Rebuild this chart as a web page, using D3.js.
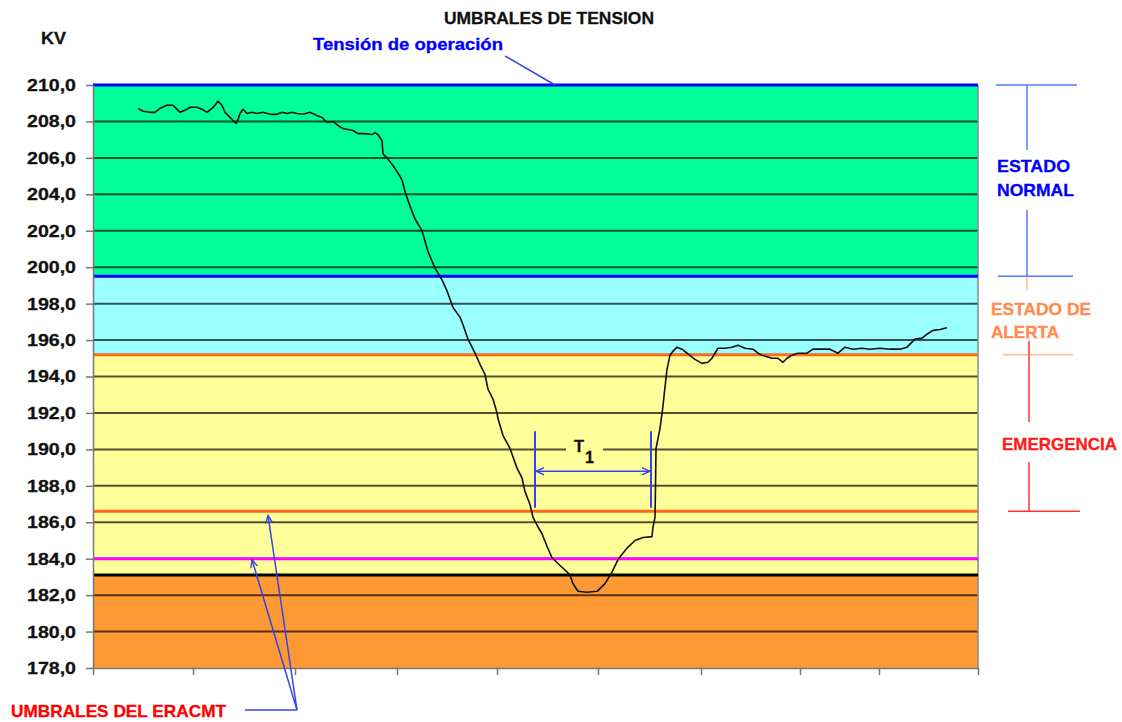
<!DOCTYPE html>
<html lang="es">
<head>
<meta charset="utf-8">
<title>Umbrales de tension</title>
<script src="https://d3js.org/d3.v7.min.js"></script>
<style>
  body { margin: 0; background: #fff; }
  text { font-family: "Liberation Sans", Arial, sans-serif; font-weight: bold; }
</style>
</head>
<body>
<chart></chart>
<script>
// tick values
const yTicks = [178, 180, 182, 184, 186, 188, 190, 192, 194, 196, 198, 200, 202, 204, 206, 208, 210];
const xTicks = [0, 100, 202, 304, 404, 505, 608, 707, 786, 885];

// zones (kV)
const bandTop = [210, 199.5, 195.2, 183.1];
const bandBottom = [199.5, 195.2, 183.1, 178];
const bandColors = ["#00ff99", "#99ffff", "#ffff99", "#ff9933"];

// threshold lines (kV)
const thresholdValues = [210, 199.5, 195.2, 186.6, 184, 183.1];
const thresholdColors = ["#0000ff", "#0000ff", "#ff6a1a", "#ff6a1a", "#ff00ff", "#000000"];

// measured voltage [t, kV]
const voltage = [
  [45,208.72],[50,208.56],[57,208.50],[62,208.50],[67,208.72],[74,208.89],[80,208.89],[87,208.50],
  [92,208.61],[97,208.78],[104,208.78],[109,208.67],[114,208.50],[119,208.72],[122,208.89],[125,209.11],
  [129,208.89],[132,208.50],[137,208.22],[143,207.89],[145,208.11],[147,208.44],[150,208.67],[154,208.44],
  [159,208.50],[164,208.44],[170,208.50],[177,208.39],[184,208.39],[189,208.50],[194,208.44],[199,208.50],
  [204,208.44],[210,208.39],[217,208.50],[224,208.33],[229,208.22],[234,207.94],[240,208.00],[245,207.78],
  [250,207.61],[255,207.56],[260,207.50],[265,207.33],[272,207.33],[279,207.28],[282,207.39],[285,207.28],
  [289,206.94],[290,206.22],[294,206.00],[300,205.58],[305,205.16],[309,204.79],[312,204.16],[317,203.35],
  [322,202.65],[329,202.00],[335,200.86],[342,199.95],[349,199.30],[354,198.70],[360,197.79],[367,197.26],
  [370,196.84],[375,196.05],[382,195.28],[387,194.67],[392,194.11],[395,193.30],[400,192.76],[404,192.00],
  [405,191.68],[410,190.76],[417,190.05],[424,188.97],[429,188.43],[432,187.68],[437,186.97],[440,186.27],
  [445,185.74],[449,185.37],[454,184.68],[459,184.05],[469,183.53],[477,183.11],[480,182.63],[485,182.21],
  [494,182.16],[504,182.21],[512,182.63],[519,183.26],[525,183.95],[534,184.58],[542,185.00],[550,185.16],
  [559,185.21],[560,185.74],[562,186.27],[562.5,187.89],[563,190.05],[567,191.14],[570,192.38],[571,192.92],
  [574,194.39],[577,195.17],[580,195.39],[584,195.61],[589,195.50],[594,195.28],[602,194.94],[609,194.72],
  [615,194.78],[619,195.00],[625,195.55],[632,195.55],[639,195.61],[645,195.72],[652,195.55],[660,195.50],
  [665,195.28],[669,195.17],[679,195.00],[685,195.00],[690,194.78],[694,195.00],[699,195.17],[705,195.28],
  [714,195.28],[720,195.50],[729,195.50],[737,195.50],[745,195.28],[752,195.61],[760,195.50],[769,195.55],
  [777,195.50],[787,195.55],[797,195.50],[807,195.50],[814,195.61],[819,195.89],[822,196.05],[829,196.11],
  [834,196.32],[840,196.53],[847,196.58],[854,196.68]
];

// T1 interval (t) and its vertical extent (kV)
const t1Span = [442, 558];
const t1Range = [186.8, 191.0];

var width = 1122, height = 722;
var margin = { top: 85, right: 144, bottom: 54, left: 93 };

var svg = d3.select("chart").append("svg")
  .attr("width", width)
  .attr("height", height);

var x = d3.scaleLinear().domain([0, 885]).range([margin.left, width - margin.right]);
var y = d3.scaleLinear().domain([178, 210]).range([height - margin.bottom, margin.top]);

var defs = svg.append("defs");
defs.append("marker")
  .attr("id", "arr")
  .attr("viewBox", "0 0 10 10")
  .attr("refX", 9).attr("refY", 5)
  .attr("markerWidth", 9).attr("markerHeight", 9)
  .attr("markerUnits", "userSpaceOnUse")
  .attr("orient", "auto-start-reverse")
  .append("path")
  .attr("d", "M0,1 L9,5 L0,9")
  .attr("fill", "none")
  .attr("stroke", "#3344ee")
  .attr("stroke-width", 1.5);

// zones
svg.append("g").selectAll("rect")
  .data(bandTop)
  .join("rect")
  .attr("x", x(0))
  .attr("width", x(885) - x(0))
  .attr("y", d => y(d))
  .attr("height", (d, i) => y(bandBottom[i]) - y(d))
  .attr("fill", (d, i) => bandColors[i]);

// gridlines
svg.append("g").selectAll("line")
  .data(yTicks.slice(1, -1))
  .join("line")
  .attr("x1", x(0)).attr("x2", x(885))
  .attr("y1", d => y(d)).attr("y2", d => y(d))
  .attr("stroke", "#000")
  .attr("stroke-opacity", 0.68)
  .attr("stroke-width", 2);

// gap in the 190 gridline behind the T1 label
svg.append("rect")
  .attr("x", 566).attr("width", 37)
  .attr("y", y(190) - 4).attr("height", 8)
  .attr("fill", "#ffff99");

// right border
svg.append("line")
  .attr("x1", x(885)).attr("x2", x(885))
  .attr("y1", y(210)).attr("y2", y(178))
  .attr("stroke", "#888").attr("stroke-width", 1.5);

// threshold lines
svg.append("g").selectAll("line")
  .data(thresholdValues)
  .join("line")
  .attr("x1", x(0)).attr("x2", x(885))
  .attr("y1", d => y(d)).attr("y2", d => y(d))
  .attr("stroke", (d, i) => thresholdColors[i])
  .attr("stroke-width", 3);

// axes
var yAxis = d3.axisLeft(y)
  .tickValues(yTicks)
  .tickSize(7)
  .tickSizeOuter(0)
  .tickPadding(10)
  .tickFormat(d => d.toFixed(1).replace(".", ","));

var xAxis = d3.axisBottom(x)
  .tickValues(xTicks)
  .tickSize(7)
  .tickSizeOuter(0)
  .tickFormat("");

var gy = svg.append("g")
  .attr("transform", "translate(" + margin.left + ",0)")
  .call(yAxis);
gy.select(".domain").attr("stroke", "#777").attr("stroke-width", 1.5);
gy.selectAll(".tick line").attr("stroke", "#777").attr("stroke-width", 1.5);
gy.selectAll(".tick text")
  .attr("font-size", 17)
  .attr("fill", "#111")
  .attr("stroke", "#111")
  .attr("stroke-width", 0.3)
  .attr("textLength", 49)
  .attr("lengthAdjust", "spacingAndGlyphs");

var gx = svg.append("g")
  .attr("transform", "translate(0," + y(178) + ")")
  .call(xAxis);
gx.select(".domain").attr("stroke", "#777").attr("stroke-width", 1.5);
gx.selectAll(".tick line").attr("stroke", "#777").attr("stroke-width", 1.5);

// voltage line
var line = d3.line().x(d => x(d[0])).y(d => y(d[1]));
svg.append("path")
  .datum(voltage)
  .attr("d", line)
  .attr("fill", "none")
  .attr("stroke", "#111")
  .attr("stroke-width", 1.6)
  .attr("stroke-linejoin", "round");

// helper for stretched bold text
function label(txt, px, py, size, color, len) {
  return svg.append("text")
    .attr("x", px).attr("y", py)
    .attr("font-size", size)
    .attr("fill", color)
    .attr("stroke", color)
    .attr("stroke-width", 0.3)
    .attr("textLength", len)
    .attr("lengthAdjust", "spacingAndGlyphs")
    .text(txt);
}

label("UMBRALES DE TENSION", 444, 24, 17, "#111", 210);
label("KV", 41, 44, 17, "#111", 25);
label("Tensión de operación", 313, 50, 17, "#0000ff", 190);
svg.append("line")
  .attr("x1", 505).attr("y1", 56)
  .attr("x2", x(462)).attr("y2", y(210))
  .attr("stroke", "#3344ee").attr("stroke-width", 1.5);

// T1 interval
var t1 = svg.append("g").attr("stroke", "#3344ee").attr("stroke-width", 2);
t1Span.forEach(function (t) {
  t1.append("line")
    .attr("x1", x(t)).attr("x2", x(t))
    .attr("y1", y(t1Range[1])).attr("y2", y(t1Range[0]));
});
t1.append("line")
  .attr("x1", x(t1Span[0]) + 1).attr("x2", x(t1Span[1]) - 1)
  .attr("y1", y(188.8)).attr("y2", y(188.8))
  .attr("stroke-width", 1.5)
  .attr("marker-start", "url(#arr)")
  .attr("marker-end", "url(#arr)");
label("T", 574, y(190) + 3, 16, "#111", 10);
label("1", 585, y(190) + 14, 16, "#111", 9);

// ERACMT thresholds callout
label("UMBRALES DEL ERACMT", 11, 717, 17, "#ff0000", 215);
var er = svg.append("g").attr("stroke", "#3344ee").attr("stroke-width", 1.5).attr("fill", "none");
er.append("line").attr("x1", 245).attr("y1", 710).attr("x2", 297).attr("y2", 710);
er.append("line").attr("x1", 297).attr("y1", 710)
  .attr("x2", x(159)).attr("y2", y(184) + 1)
  .attr("marker-end", "url(#arr)");
er.append("line").attr("x1", 297).attr("y1", 710)
  .attr("x2", x(175)).attr("y2", y(186.6) + 4)
  .attr("marker-end", "url(#arr)");

// state brackets on the right
var bx = 1027;
var st = svg.append("g").attr("stroke-width", 1.5);
st.append("line").attr("x1", 996).attr("x2", 1077).attr("y1", y(210)).attr("y2", y(210)).attr("stroke", "#5577ff");
st.append("line").attr("x1", bx).attr("x2", bx).attr("y1", y(210)).attr("y2", 150).attr("stroke", "#5577ff");
st.append("line").attr("x1", bx).attr("x2", bx).attr("y1", 210).attr("y2", y(199.5)).attr("stroke", "#5577ff");
st.append("line").attr("x1", 998).attr("x2", 1073).attr("y1", y(199.5)).attr("y2", y(199.5)).attr("stroke", "#5577ff");
st.append("line").attr("x1", bx).attr("x2", bx).attr("y1", y(199.5) + 1).attr("y2", y(199.5) + 14).attr("stroke", "#ffbb88");
st.append("line").attr("x1", 1003).attr("x2", 1073).attr("y1", y(195.2)).attr("y2", y(195.2)).attr("stroke", "#ffbb88");
st.append("line").attr("x1", bx + 2).attr("x2", bx + 2).attr("y1", y(195.2) - 14).attr("y2", 422).attr("stroke", "#ff3333");
st.append("line").attr("x1", bx + 2).attr("x2", bx + 2).attr("y1", 462).attr("y2", y(186.6)).attr("stroke", "#ff3333");
st.append("line").attr("x1", 1008).attr("x2", 1080).attr("y1", y(186.6)).attr("y2", y(186.6)).attr("stroke", "#ff3333");

label("ESTADO", 997, 172, 17, "#0000ff", 73);
label("NORMAL", 997, 196, 17, "#0000ff", 77);
label("ESTADO DE", 991, 315, 17, "#ff8a4c", 100);
label("ALERTA", 991, 338, 17, "#ff8a4c", 68);
label("EMERGENCIA", 1002, 450, 17, "#ff1a1a", 115);
</script>
</body>
</html>
